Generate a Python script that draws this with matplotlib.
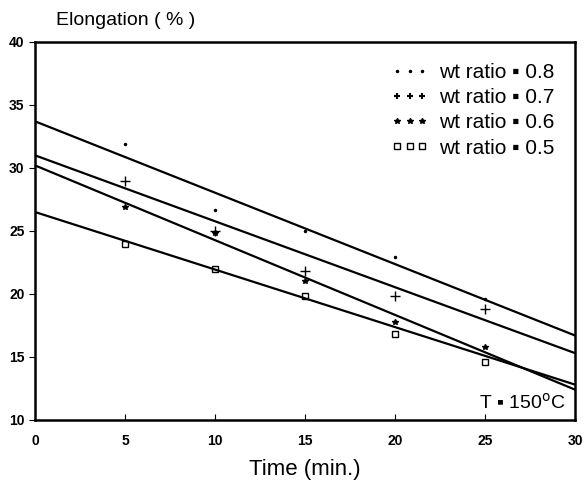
import numpy as np
import matplotlib
matplotlib.use("Agg")
import matplotlib.pyplot as plt
from matplotlib.lines import Line2D

plt.rcParams['font.family'] = ['Liberation Sans', 'DejaVu Sans']

# measured points (time in min, elongation in %)
time = [5, 10, 15, 20, 25]
elong_08 = [31.9, 26.7, 25.0, 22.9, 19.6]
elong_07 = [29.0, 25.0, 21.8, 19.8, 18.8]
elong_06 = [26.9, 24.8, 21.0, 17.8, 15.8]
elong_05 = [24.0, 22.0, 19.8, 16.8, 14.6]

# fitted lines: value at t=0 and t=30
line_t = [0, 30]
line_08 = [33.7, 16.7]
line_07 = [31.0, 15.3]
line_06 = [30.2, 12.4]
line_05 = [26.5, 12.8]

labels = ['wt ratio \u25aa 0.8', 'wt ratio \u25aa 0.7',
          'wt ratio \u25aa 0.6', 'wt ratio \u25aa 0.5']

fig = plt.figure(figsize=(5.85, 4.94), dpi=100)
ax = fig.add_axes([0.06, 0.15, 0.923, 0.765])

for ys in [line_08, line_07, line_06, line_05]:
    ax.plot(line_t, ys, color='black', linewidth=1.6)

ax.plot(time, elong_08, linestyle='none', marker='.', markersize=3, color='black')
ax.plot(time, elong_07, linestyle='none', marker='+', markersize=7, color='black', mew=1)
ax.plot(time, elong_06, linestyle='none', marker='*', markersize=4, color='black')
ax.plot(time, elong_05, linestyle='none', marker='s', markersize=5, color='black',
        fillstyle='none', mew=1)

handles = [
    Line2D([], [], linestyle='none', marker='.', markersize=3, color='black'),
    Line2D([], [], linestyle='none', marker='+', markersize=5, color='black', mew=1.5),
    Line2D([], [], linestyle='none', marker='*', markersize=4, color='black'),
    Line2D([], [], linestyle='none', marker='s', markersize=4, color='black',
           fillstyle='none', mew=1),
]
ax.legend(handles, labels, loc='upper right', frameon=False, numpoints=3,
          handlelength=1.8, handletextpad=0.5, labelspacing=0.3,
          borderaxespad=0.6, prop={'size': 15})

ax.text(29.5, 10.6, 'T \u25aa 150$^{\\rm o}$C', ha='right', va='bottom', fontsize=14)

ax.set_xlim(0, 30)
ax.set_ylim(10, 40)
ax.set_xticks([0, 5, 10, 15, 20, 25, 30])
ax.set_yticks([10, 15, 20, 25, 30, 35, 40])
ax.tick_params(axis='x', direction='in', length=4, labelsize=10, pad=10)
ax.tick_params(axis='y', direction='out', length=4, labelsize=10)
for lab in ax.get_xticklabels() + ax.get_yticklabels():
    lab.set_fontweight('bold')
for s in ax.spines.values():
    s.set_linewidth(1.8)

ax.set_xlabel('Time (min.)', fontsize=16, labelpad=8)
fig.text(0.095, 0.958, 'Elongation ( % )', fontsize=14, ha='left', va='center')

fig.savefig('out.png', dpi=100)
